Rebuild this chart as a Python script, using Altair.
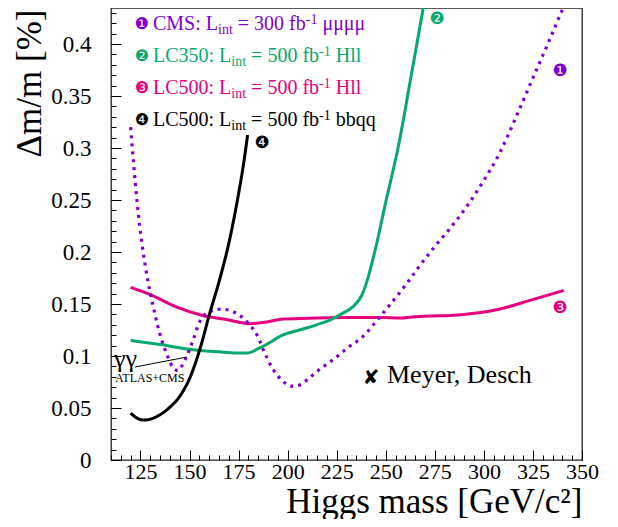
import altair as alt
import pandas as pd

# ---------------- data ----------------
cms_mass = [120, 123.2, 128.8, 131.0, 133.4, 135.9, 139.0, 141.5, 144.0, 147.6, 151.2, 155.2,
            159.3, 166.4, 174.0, 180.6, 184.2, 188.3, 192.3, 196.9, 202.0, 206.0, 211.1, 216.2,
            222.8, 231.4, 238.0, 245.0, 252.0, 260.0, 267.0, 274.0, 282.0, 291.0, 299.0, 308.0,
            316.0, 324.0, 333.0, 342.0]
cms_dm = [0.320, 0.250, 0.172, 0.152, 0.132, 0.115, 0.099, 0.089, 0.086, 0.096, 0.112, 0.133,
          0.142, 0.145, 0.141, 0.130, 0.121, 0.103, 0.088, 0.077, 0.071, 0.072, 0.079, 0.087,
          0.096, 0.109, 0.118, 0.133, 0.149, 0.168, 0.186, 0.203, 0.221, 0.243, 0.266, 0.295,
          0.328, 0.363, 0.402, 0.442]

lc350_mass = [120, 135, 152, 165, 174, 180, 185, 190, 197.4, 206, 214.7, 222, 228, 233, 238.2,
              240.6, 245, 250, 256.8, 263, 270]
lc350_dm = [0.115, 0.111, 0.106, 0.104, 0.103, 0.103, 0.107, 0.112, 0.120, 0.125, 0.130, 0.135,
            0.141, 0.147, 0.160, 0.173, 0.205, 0.248, 0.305, 0.370, 0.444]

lc500_mass = [120, 130, 143.5, 156.7, 168.9, 180.6, 190, 197.6, 214.7, 231.4, 248.2, 256.8, 267,
              273.6, 283, 290, 299.2, 307.7, 324.4, 340.7]
lc500_dm = [0.166, 0.159, 0.147, 0.139, 0.135, 0.131, 0.133, 0.1355, 0.1365, 0.137, 0.137, 0.1365,
            0.138, 0.1385, 0.139, 0.140, 0.142, 0.145, 0.154, 0.163]

bbqq_mass = [120, 123, 126, 129, 132, 135, 138, 141, 144, 147, 150, 153, 156, 160, 165, 170,
             175, 177.5, 179.6]
bbqq_dm = [0.045, 0.0405, 0.0385, 0.0388, 0.0405, 0.0435, 0.0475, 0.0525, 0.0585, 0.067, 0.078,
           0.093, 0.111, 0.139, 0.171, 0.208, 0.256, 0.284, 0.3125]

x_major = [125, 150, 175, 200, 225, 250, 275, 300, 325, 350]
x_minor = list(range(110, 351, 5))
y_major = [0, 0.05, 0.1, 0.15, 0.2, 0.25, 0.3, 0.35, 0.4]
y_minor = [i / 100 for i in range(0, 44)]

legend_lines = [
    ("\u2776", "CMS: L", "= 300 fb", "\u03bc\u03bc\u03bc\u03bc"),
    ("\u2777", "LC350: L", "= 500 fb", "Hll"),
    ("\u2778", "LC500: L", "= 500 fb", "Hll"),
    ("\u2779", "LC500: L", "= 500 fb", "bbqq"),
]

# ---------------- layout / style ----------------
PURPLE = "#7d00d2"
GREEN = "#07a86b"
PINK = "#e6007e"
BLACK = "#000000"
SERIF = "Liberation Serif"
SYM = "DejaVu Sans"

W, H = 471, 452
X_MIN, X_MAX = 110, 350
PX_PER_Y = 1040.0
Y_MAX = H / PX_PER_Y
PLOT_LEFT, PLOT_BOTTOM = 111, 460  # page coordinates of plot origin


def to_data(xp, yp):
    return X_MIN + (xp - PLOT_LEFT) * (X_MAX - X_MIN) / W, (PLOT_BOTTOM - yp) / PX_PER_Y


ADV = {' ': 250, ':': 278, '=': 564, '-': 333, 'L': 611, 'C': 667, 'M': 889, 'S': 556,
       'H': 722, 'l': 278, 'b': 500, 'q': 500, 'f': 333, 'i': 278, 'n': 500, 't': 278,
       '\u03bc': 576}


def tw(s, fs):
    return sum(ADV.get(c, 500) for c in s) * fs / 1000.0


FS, SFS = 20, 14
colors = [PURPLE, GREEN, PINK, BLACK]
baselines = [30, 62, 94, 126]

txt_rows = []
sym_rows = []
for (circ, a, b, c), col, base in zip(legend_lines, colors, baselines):
    x = 153
    segs = []
    segs.append((a, x, base, FS)); x += tw(a, FS)
    segs.append(("int", x, base + 4, SFS)); x += tw("int", SFS) + tw(" ", FS)
    segs.append((b, x, base, FS)); x += tw(b, FS)
    segs.append(("-1", x, base - 6, SFS)); x += tw("-1", SFS) + tw(" ", FS)
    segs.append((c, x, base, FS))
    for t, xp, yp, fs in segs:
        m, v = to_data(xp, yp)
        txt_rows.append(dict(text=t, m=m, v=v, size=fs, color=col))
    m, v = to_data(142, base - 1.5)
    sym_rows.append(dict(text=circ, m=m, v=v, size=16, color=col))

# curve end markers
for circ, col, xp, yp in [("\u2776", PURPLE, 560, 76), ("\u2777", GREEN, 437, 24),
                          ("\u2778", PINK, 560, 313), ("\u2779", BLACK, 262, 148)]:
    m, v = to_data(xp, yp)
    sym_rows.append(dict(text=circ, m=m, v=v, size=17, color=col))

# Meyer, Desch marker
m, v = to_data(371, 384)
sym_rows.append(dict(text="\u2718", m=m, v=v, size=20, color=BLACK))
m, v = to_data(387, 383)
txt_rows.append(dict(text="Meyer, Desch", m=m, v=v, size=26, color=BLACK))
m, v = to_data(114, 367)
txt_rows.append(dict(text="\u03b3\u03b3", m=m, v=v, size=26, color=BLACK))
m, v = to_data(115, 382)
txt_rows.append(dict(text="ATLAS+CMS", m=m, v=v, size=12, color=BLACK))

txt_df = pd.DataFrame(txt_rows)
sym_df = pd.DataFrame(sym_rows)

g1 = to_data(135, 367)
g2 = to_data(187, 357)
rule_df = pd.DataFrame([dict(m=g1[0], v=g1[1], m2=g2[0], v2=g2[1])])

xs = alt.Scale(domain=[X_MIN, X_MAX], nice=False, zero=False)
ys = alt.Scale(domain=[0, Y_MAX], nice=False, zero=False)

x_axis_major = alt.Axis(
    orient="bottom", values=x_major, tickSize=10, offset=-10, domain=False, grid=False,
    tickColor="black", tickWidth=1, labelFont=SERIF, labelFontSize=22, labelColor="black",
    labelPadding=1, labelFlush=False, labelOverlap=False, labelBound=False,
    title="Higgs mass [GeV/c\u00b2]", titleFont=SERIF, titleFontSize=35, titleFontWeight="normal",
    titleColor="black", titleAlign="right", titleAnchor="end", titleBaseline="alphabetic",
    titleX=W, titleY=62,
)
y_axis_major = alt.Axis(
    orient="left", values=y_major, format="~g", tickSize=10, offset=-10, domain=False,
    grid=False, tickColor="black", tickWidth=1, labelFont=SERIF, labelFontSize=23,
    labelColor="black", labelPadding=20, labelFlush=False, labelOverlap=False, labelBound=False,
    title="\u0394m/m [%]", titleFont=SERIF, titleFontSize=35, titleFontWeight="normal",
    titleColor="black", titleAngle=270, titleAlign="right", titleBaseline="alphabetic",
    titleX=-81, titleY=1,
)
x_axis_minor = alt.Axis(orient="bottom", values=x_minor, tickSize=5, offset=-5, domain=False,
                        grid=False, labels=False, tickColor="black", tickWidth=1, title=None)
y_axis_minor = alt.Axis(orient="left", values=y_minor, tickSize=5, offset=-5, domain=False,
                        grid=False, labels=False, tickColor="black", tickWidth=1, title=None)


def curve(ms, vs, color, dash=None, width=3, axes=False):
    df = pd.DataFrame({"m": ms, "v": vs})
    kw = dict(clip=True, interpolate="monotone", color=color, strokeWidth=width)
    if dash:
        kw["strokeDash"] = dash
        kw["strokeCap"] = "butt"
    return alt.Chart(df).mark_line(**kw).encode(
        x=alt.X("m:Q", scale=xs, axis=x_axis_major if axes else None),
        y=alt.Y("v:Q", scale=ys, axis=y_axis_major if axes else None),
    )


pink = curve(lc500_mass, lc500_dm, PINK, axes=True)
green = curve(lc350_mass, lc350_dm, GREEN)
purple = curve(cms_mass, cms_dm, PURPLE, dash=[3, 5], width=3.2)
black = curve(bbqq_mass, bbqq_dm, BLACK)

minor = alt.Chart(pd.DataFrame({"m": lc500_mass, "v": lc500_dm})).mark_point(opacity=0, size=1).encode(
    x=alt.X("m:Q", scale=xs, axis=x_axis_minor),
    y=alt.Y("v:Q", scale=ys, axis=y_axis_minor),
)

texts = alt.Chart(txt_df).mark_text(font=SERIF, align="left", baseline="alphabetic").encode(
    x=alt.X("m:Q", scale=xs, axis=None),
    y=alt.Y("v:Q", scale=ys, axis=None),
    text="text:N",
    size=alt.Size("size:Q", scale=None),
    color=alt.Color("color:N", scale=None),
)
syms = alt.Chart(sym_df).mark_text(font=SYM, align="center", baseline="alphabetic").encode(
    x=alt.X("m:Q", scale=xs, axis=None),
    y=alt.Y("v:Q", scale=ys, axis=None),
    text="text:N",
    size=alt.Size("size:Q", scale=None),
    color=alt.Color("color:N", scale=None),
)
rule = alt.Chart(rule_df).mark_rule(color="black", strokeWidth=1).encode(
    x=alt.X("m:Q", scale=xs, axis=None), y=alt.Y("v:Q", scale=ys, axis=None),
    x2="m2:Q", y2="v2:Q",
)

chart = alt.layer(pink, green, purple, black, minor, rule, texts, syms).resolve_axis(
    x="independent", y="independent"
).properties(
    width=W, height=H,
    autosize=alt.AutoSizeParams(type="none"),
    padding={"left": 103, "top": 0, "right": 28, "bottom": 59},
    background="white",
).configure_view(stroke="#222222", strokeWidth=1.3)

chart.save("out.html", embed_options={"renderer": "svg", "actions": False})
